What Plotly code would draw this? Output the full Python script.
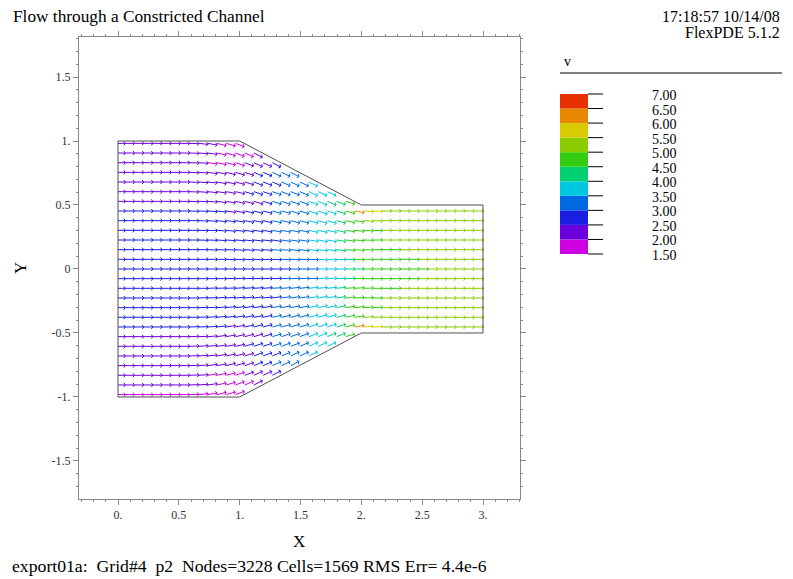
import math
import plotly.graph_objects as go

# ---------------- text ----------------
title_text = "Flow through a Constricted Channel"
stamp_time = "17:18:57 10/14/08"
stamp_prog = "FlexPDE 5.1.2"
footer_text = "export01a:  Grid#4  p2  Nodes=3228 Cells=1569 RMS Err= 4.4e-6"
legend_title = "v"
x_title = "X"
y_title = "Y"

# ---------------- colour bands (speed v) ----------------
band_edges = [1.5, 2.0, 2.5, 3.0, 3.5, 4.0, 4.5, 5.0, 5.5, 6.0, 6.5, 7.0]
band_labels = ["1.50", "2.00", "2.50", "3.00", "3.50", "4.00", "4.50", "5.00", "5.50", "6.00", "6.50", "7.00"]
band_colors = ["#cc00e0", "#6a00dc", "#1a1ee0", "#0068e0", "#00c8e0", "#00d070",
               "#33cc11", "#8ccc00", "#d8cc00", "#e88800", "#e83000"]

# ---------------- channel outline ----------------
boundary_x = [0, 1, 2, 3, 3, 2, 1, 0, 0]
boundary_y = [1, 1, 0.5, 0.5, -0.5, -0.5, -1, -1, 1]

# ---------------- ticks ----------------
x_tick_vals = [0, 0.5, 1, 1.5, 2, 2.5, 3]
x_tick_text = ["0.", "0.5", "1.", "1.5", "2.", "2.5", "3."]
y_tick_vals = [-1.5, -1, -0.5, 0, 0.5, 1, 1.5]
y_tick_text = ["-1.5", "-1.", "-0.5", "0", "0.5", "1.", "1.5"]

# ---------------- vector field ----------------
# one string per arrow row; one character per arrow column (band index of |v|)
speed_band_upper = [  # rows y = 0, +1, ... +13 grid steps
    "2222222222222222222333444556666666777777",
    "2222222222222222223333444566666667777777",
    "2222222222222222233334445666666777777777",
    "2222222222222222223334445666677777777777",
    "2222222222222222233334445666677777777777",
    "2222222222222222233334445667777777777777",
    "2222222222221122233334445698877777777777",
    "11111111111111112333344556",
    "111111111111112223333444",
    "1111111111111112223334",
    "11111111111111122333",
    "111111111100001112",
    "1111111111100001",
    "11111111111000",
]
speed_band_lower = [  # rows y = -1, ... -13 grid steps
    "2222222222222222223333444566666667777777",
    "2222222222222222233334445666666777777777",
    "2222222222222222223334445666677777777777",
    "2222222222222222233334445666677777777777",
    "2222222222222222233334445667777777777777",
    "2222222222221122233334445698877777777777",
    "11111111111111112333344556",
    "111111111111112223333444",
    "1111111111111112223334",
    "11111111111111122333",
    "111111111100001112",
    "1111111111100001",
    "00000000000000",
]
# arrow tilt towards the centre line, hex digit in units of 2 degrees
tilt_rows = [
    "0000000000000000000000000000000000000000",
    "0000000000001111111111221110000000000000",
    "0000000000111222222333333221000000000000",
    "0000000001122233344444554321000000000000",
    "0000000001123344555556666432100000000000",
    "0000000001233455666777887642100000000000",
    "0000000011234567777889998752100000000000",
    "00000000112456788899aabba8",
    "000000001234568999aabccc",
    "000000001235678aabbccd",
    "000000001245789bbccd",
    "00000000124679accd",
    "0000000012468abd",
    "0000000013578a",
]

GRID_STEP = 0.0755
GRID_X0 = -0.015
HEAD_LEN = 0.02
HEAD_ANG = math.radians(50)

seg_x = {b: [] for b in range(len(band_colors))}
seg_y = {b: [] for b in range(len(band_colors))}

rows = []
for k in range(len(speed_band_upper)):
    rows.append((k, speed_band_upper[k], tilt_rows[k], -1))
for k in range(1, len(speed_band_lower) + 1):
    rows.append((-k, speed_band_lower[k - 1], tilt_rows[k], 1))

for k, cstr, tstr, sgn in rows:
    y0 = k * GRID_STEP
    for i, c in enumerate(cstr):
        if c == ".":
            continue
        b = int(c, 16)
        t = int(tstr[i], 16) if i < len(tstr) else 0
        ang = sgn * math.radians(2 * t)
        xt = GRID_X0 + i * GRID_STEP
        xe = xt + GRID_STEP * math.cos(ang)
        ye = y0 + GRID_STEP * math.sin(ang)
        xs, ys = xt, y0
        if xs < 0:
            ys = y0 + (0 - xt) * math.tan(ang)
            xs = 0.0
        back = ang + math.pi
        h1x = xe + HEAD_LEN * math.cos(back + HEAD_ANG)
        h1y = ye + HEAD_LEN * math.sin(back + HEAD_ANG)
        h2x = xe + HEAD_LEN * math.cos(back - HEAD_ANG)
        h2y = ye + HEAD_LEN * math.sin(back - HEAD_ANG)
        seg_x[b] += [xs, xe, None, h1x, xe, h2x, None]
        seg_y[b] += [ys, ye, None, h1y, ye, h2y, None]

fig = go.Figure()
for b in range(len(band_colors)):
    if seg_x[b]:
        fig.add_trace(go.Scatter(x=seg_x[b], y=seg_y[b], mode="lines",
                                 line=dict(color=band_colors[b], width=1),
                                 hoverinfo="skip", showlegend=False))

fig.add_trace(go.Scatter(x=boundary_x, y=boundary_y, mode="lines",
                         line=dict(color="#505050", width=1),
                         hoverinfo="skip", showlegend=False))

# ---------------- layout geometry (pixels) ----------------
W, H = 793, 579
PL, PR, PT, PB = 79, 520, 37, 499


def fx(px):
    return (px - PL) / (PR - PL)


def fy(py):
    return (PB - py) / (PB - PT)


SERIF = "Liberation Serif, Times New Roman, serif"
ann = []
shapes = []

ann.append(dict(text=title_text, x=fx(11), y=fy(17), xanchor="left", yanchor="middle",
                font=dict(family=SERIF, size=17.3, color="#000")))
ann.append(dict(text=stamp_time, x=fx(782), y=fy(16.5), xanchor="right", yanchor="middle",
                font=dict(family=SERIF, size=16, color="#000")))
ann.append(dict(text=stamp_prog, x=fx(782), y=fy(32.5), xanchor="right", yanchor="middle",
                font=dict(family=SERIF, size=16, color="#000")))
ann.append(dict(text=footer_text.replace(" ", "\u00a0"), x=fx(10), y=fy(566), xanchor="left",
                yanchor="middle", font=dict(family=SERIF, size=17.7, color="#000")))
ann.append(dict(text=x_title, x=fx(299), y=fy(541), xanchor="center", yanchor="middle",
                font=dict(family=SERIF, size=17, color="#000")))
ann.append(dict(text=y_title, x=fx(20), y=fy(268), xanchor="center", yanchor="middle",
                textangle=-90, font=dict(family=SERIF, size=17, color="#000")))

# legend
ann.append(dict(text=legend_title, x=fx(562), y=fy(61), xanchor="left", yanchor="middle",
                font=dict(family=SERIF, size=14, color="#000")))
shapes.append(dict(type="line", xref="paper", yref="paper", x0=fx(560), x1=fx(782),
                   y0=fy(73), y1=fy(73), line=dict(color="#000", width=1)))
LEG_TOP, LEG_BOT = 94, 254


def leg_py(v):
    return LEG_BOT - (v - band_edges[0]) / (band_edges[-1] - band_edges[0]) * (LEG_BOT - LEG_TOP)


for b, col in enumerate(band_colors):
    shapes.append(dict(type="rect", xref="paper", yref="paper", x0=fx(560), x1=fx(588),
                       y0=fy(leg_py(band_edges[b])), y1=fy(leg_py(band_edges[b + 1])),
                       fillcolor=col, line=dict(width=0)))
for v, lab in zip(band_edges, band_labels):
    shapes.append(dict(type="line", xref="paper", yref="paper", x0=fx(588), x1=fx(603),
                       y0=fy(leg_py(v)), y1=fy(leg_py(v)), line=dict(color="#000", width=1)))
    ann.append(dict(text=lab, x=fx(650), y=fy(leg_py(v) + 1.5), xanchor="left", yanchor="middle",
                    font=dict(family=SERIF, size=14, color="#000")))

for a in ann:
    a.setdefault("xref", "paper")
    a.setdefault("yref", "paper")
    a["showarrow"] = False

axis_common = dict(showgrid=False, zeroline=False, showline=True, linecolor="#888",
                   linewidth=1, mirror="ticks", ticks="outside", ticklen=5,
                   tickcolor="#888", tickwidth=1,
                   tickfont=dict(family=SERIF, size=12, color="#333"))

fig.update_layout(
    width=W, height=H,
    margin=dict(l=PL, r=W - PR, t=PT, b=H - PB, pad=0),
    paper_bgcolor="white", plot_bgcolor="white",
    showlegend=False,
    xaxis=dict(range=[-0.3205, 3.304], tickvals=x_tick_vals, ticktext=x_tick_text,
               minor=dict(dtick=0.1, tick0=0, ticks="outside", ticklen=2, tickcolor="#888"),
               **axis_common),
    yaxis=dict(range=[-1.797, 1.8125], tickvals=y_tick_vals, ticktext=y_tick_text,
               minor=dict(dtick=0.1, tick0=0, ticks="outside", ticklen=2, tickcolor="#888"),
               **axis_common),
    annotations=ann,
    shapes=shapes,
)

fig.write_html("out.html", config={"displayModeBar": False},
               post_script="document.body.style.margin='0';document.body.style.overflow='hidden';")
